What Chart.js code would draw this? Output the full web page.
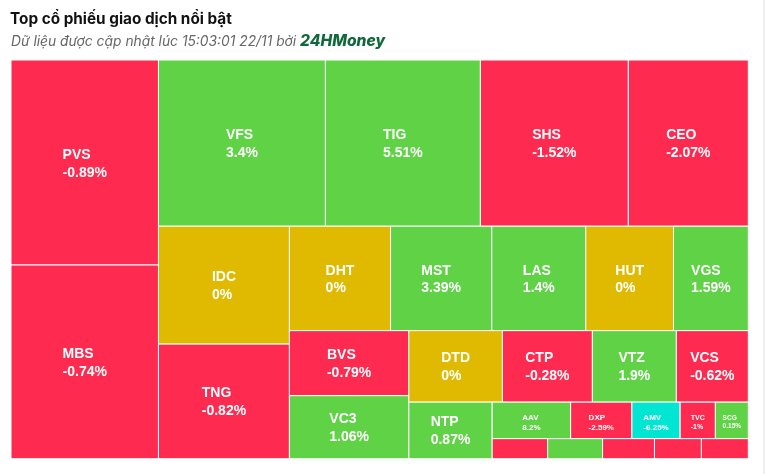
<!DOCTYPE html>
<html><head><meta charset="utf-8">
<script src="https://cdn.jsdelivr.net/npm/chart.js@4/dist/chart.umd.min.js"></script>
<style>
html,body{margin:0;padding:0;background:#fff;}
#wrap{position:relative;width:768px;height:474px;overflow:hidden;}
canvas{position:absolute;left:0;top:0;}
#title{position:absolute;left:10px;top:9px;font:700 15.3px Inter,sans-serif;color:#111;white-space:nowrap;line-height:20px;}
#sub{position:absolute;left:11px;top:31px;font:italic 400 13.8px Inter,sans-serif;color:#666;white-space:nowrap;line-height:18px;}
#sub b{font:italic 800 15.6px Inter,sans-serif;color:#10693a;}
#edge{position:absolute;left:763px;top:0;width:2px;height:474px;background:#efefef;}
</style></head>
<body><div id="wrap">
<div id="edge"></div>
<canvas id="c" width="768" height="474"></canvas>
<div id="title">Top cổ phiếu giao dịch nổi bật</div>
<div id="sub">Dữ liệu được cập nhật lúc 15:03:01 22/11 bởi <b>24HMoney</b></div>
</div>
<script>
// ---- data ----
const tickers = ['PVS','MBS','VFS','TIG','SHS','CEO','IDC','TNG','DHT','MST','LAS','HUT','VGS','BVS','VC3','DTD','CTP','VTZ','VCS','NTP','AAV','DXP','AMV','TVC','SCG','','','','',''];
const tradeValues = [30197,28532,27722,25730,24568,19920,15423,14991,10550,10560,9804,9150,7800,7761,7522,6683,6426,5998,5141,4708,2861,2235,1758,1285,1201,1112,1100,1040,940,940];
const changes = [-0.89,-0.74,3.4,5.51,-1.52,-2.07,0,-0.82,0,3.39,1.4,0,1.59,-0.79,1.06,0,-0.28,1.9,-0.62,0.87,8.2,-2.59,-6.25,-1,0.15,null,null,null,null,null];
const trends = ['down','down','up','up','down','down','flat','down','flat','up','up','flat','up','down','up','flat','down','up','down','up','up','down','floor','down','up','down','up','down','down','down'];
const trendColors = {down:'#ff2a4f', up:'#5fd246', flat:'#dfba00', floor:'#00e6d2'};

// ---- squarified layout, alternating direction (low aspect ratio) ----
function layoutTreemap(values, rect){
  const total = values.reduce((a,b)=>a+b,0);
  const parent = {x:rect.x, y:rect.y, width:rect.w, height:rect.h};
  const plot = {x:parent.x, y:parent.y};
  const ar = (a,b)=>Math.max(a/b,b/a);
  const g = {height:parent.height,width:parent.width,direction:0,total:0,nW:0,lW:0,nH:0,lH:0,elArr:[],
    lP:{total:0,lH:0,nH:0,lW:0,nW:0,nR:0,lR:0}};
  function addElement(el){
    const lP=g.lP;
    lP.total=g.elArr[g.elArr.length-1];
    g.total+=el;
    if(g.direction===0){
      g.lW=g.nW; lP.lH=lP.total/g.lW; lP.lR=ar(g.lW,lP.lH);
      g.nW=g.total/g.height; lP.nH=lP.total/g.nW; lP.nR=ar(g.nW,lP.nH);
    } else {
      g.lH=g.nH; lP.lW=lP.total/g.lH; lP.lR=ar(lP.lW,g.lH);
      g.nH=g.total/g.width; lP.nW=lP.total/g.nH; lP.nR=ar(lP.nW,g.nH);
    }
    g.elArr.push(el);
  }
  function reset(){g.nW=0;g.lW=0;g.elArr=[];g.total=0;}
  const out=[];
  function calcPoints(last){
    const end=g.elArr.length-1;
    let gW=g.lW, gH=g.lH, keep;
    if(last){gW=g.nW; gH=g.nH;} else keep=g.elArr[end];
    g.elArr.forEach((p,i)=>{
      if(last||i<end){
        let pW,pH;
        if(g.direction===0){pW=gW;pH=p/pW;} else {pH=gH;pW=p/pH;}
        out.push({x:plot.x,y:plot.y,w:pW,h:pH});
        if(g.direction===0) plot.y+=pH; else plot.x+=pW;
      }
    });
    reset();
    if(g.direction===0) g.width-=gW; else g.height-=gH;
    plot.y=parent.y+(parent.height-g.height);
    plot.x=parent.x+(parent.width-g.width);
    g.direction=1-g.direction;
    if(!last) addElement(keep);
  }
  const end=values.length-1;
  values.forEach((v,i)=>{
    addElement(parent.width*parent.height*(v/total));
    if(g.lP.nR>g.lP.lR) calcPoints(false);
    if(i===end) calcPoints(true);
  });
  return out;
}

const fmt = v => (v===null ? '' : String(v)+'%');

const treemapPlugin = {
  id:'treemapCells',
  afterDatasetsDraw(chart){
    const xs=chart.scales.x, ys=chart.scales.y;
    const x0=xs.getPixelForValue(0), x1=xs.getPixelForValue(1);
    const y0=ys.getPixelForValue(1), y1=ys.getPixelForValue(0);
    const vals=chart.data.datasets[0].data;
    const cells=layoutTreemap(vals,{x:x0,y:y0,w:x1-x0,h:y1-y0});
    const ctx=chart.ctx;
    ctx.save();
    cells.forEach((c,i)=>{
      ctx.fillStyle=trendColors[trends[i]];
      ctx.fillRect(c.x,c.y,c.w,c.h);
      ctx.strokeStyle='#ffffff';
      ctx.lineWidth=1;
      ctx.strokeRect(c.x,c.y,c.w,c.h);
    });
    cells.forEach((c,i)=>{
      const name=tickers[i];
      if(!name) return;
      const big = c.h>=45;
      const fs = big ? 14 : Math.min(8, c.w*0.2);
      ctx.font='700 '+fs+'px "Liberation Sans", Arial, sans-serif';
      ctx.fillStyle='#ffffff';
      ctx.textAlign='left';
      ctx.textBaseline='alphabetic';
      const l1=name, l2=fmt(changes[i]);
      const w=Math.max(ctx.measureText(l1).width, ctx.measureText(l2).width);
      const gap=fs*1.28, cap=fs*0.72;
      const cx=c.x+c.w/2, cy=c.y+c.h/2;
      const b1=cy-(gap-cap)/2+(big?0:1.5);
      const lx=cx-w/2;
      ctx.fillText(l1,lx,b1);
      ctx.fillText(l2,lx,b1+gap);
    });
    ctx.restore();
  }
};

new Chart(document.getElementById('c'),{
  type:'scatter',
  data:{labels:tickers,datasets:[{data:tradeValues,pointRadius:0,showLine:false}]},
  options:{
    responsive:false,animation:false,events:[],
    layout:{padding:{left:11,top:60,right:19.7,bottom:15.3}},
    scales:{x:{type:'linear',min:0,max:1,display:false},y:{type:'linear',min:0,max:1,display:false}},
    plugins:{legend:{display:false},tooltip:{enabled:false},title:{display:false}}
  },
  plugins:[treemapPlugin]
});
</script>
</body></html>
